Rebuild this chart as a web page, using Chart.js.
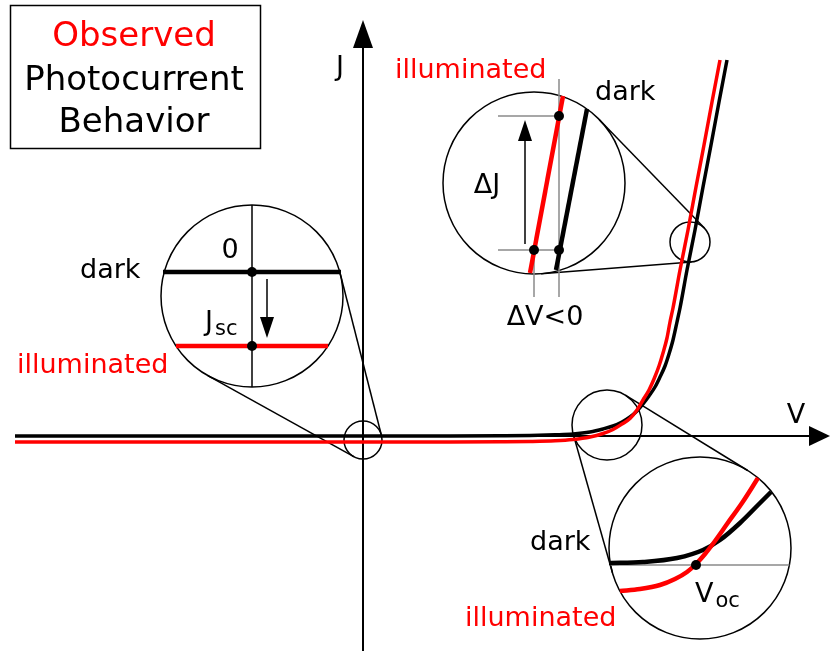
<!DOCTYPE html>
<html>
<head>
<meta charset="utf-8">
<script src="https://cdn.jsdelivr.net/npm/chart.js@4.4.1/dist/chart.umd.min.js"></script>
<style>
  html, body { margin: 0; padding: 0; background: #fff; }
  #wrap { width: 831px; height: 651px; }
</style>
</head>
<body>
<div id="wrap"><canvas id="ivChart" width="831" height="651"></canvas></div>
<script>
// J-V curves, arbitrary units (origin = axis crossing)
const darkV  = [-3.48, 0.87, 1.37, 1.67, 1.92, 2.10, 2.27, 2.40, 2.50, 2.59, 2.67, 2.74, 2.80, 2.86, 2.92, 2.97, 3.02, 3.06, 3.10, 3.14, 3.17, 3.24, 3.32, 3.40, 3.48, 3.56, 3.64];
const darkJ  = [0, 0, 0.002, 0.005, 0.012, 0.02, 0.04, 0.07, 0.10, 0.14, 0.19, 0.25, 0.32, 0.40, 0.49, 0.59, 0.70, 0.82, 0.96, 1.14, 1.28, 1.66, 2.06, 2.49, 2.91, 3.34, 3.76];
const illumV = [-3.48, 0.87, 1.37, 1.67, 1.92, 2.10, 2.27, 2.40, 2.50, 2.59, 2.67, 2.74, 2.80, 2.86, 2.91, 2.96, 3.00, 3.04, 3.07, 3.10, 3.17, 3.25, 3.33, 3.41, 3.49, 3.57];
const illumJ = [-0.06, -0.06, -0.058, -0.055, -0.048, -0.035, -0.01, 0.025, 0.065, 0.12, 0.175, 0.26, 0.36, 0.46, 0.57, 0.70, 0.83, 0.98, 1.14, 1.28, 1.66, 2.06, 2.49, 2.91, 3.34, 3.76];

// magnified pieces: short circuit (left), forward bias (top), open circuit (bottom)
const jscDarkV = [-2.00, -0.22], jscDarkJ = [1.64, 1.64];
const jscIllumV = [-1.87, -0.35], jscIllumJ = [0.90, 0.90];
const fwdDarkV = [1.93, 2.24], fwdDarkJ = [1.66, 3.27];
const fwdIllumV = [1.67, 2.00], fwdIllumJ = [1.63, 3.40];
const vocDarkV = [2.46, 2.80, 3.14, 3.40, 3.57, 3.77, 3.97, 4.08];
const vocDarkJ = [-1.27, -1.26, -1.22, -1.14, -1.04, -0.87, -0.67, -0.56];
const vocIllumV = [2.57, 2.77, 2.97, 3.12, 3.24, 3.33, 3.42, 3.52, 3.64, 3.79, 3.95];
const vocIllumJ = [-1.55, -1.53, -1.49, -1.43, -1.36, -1.28, -1.18, -1.05, -0.88, -0.67, -0.42];

// marked points: 0, Jsc, the two ΔJ ends, the dark point, Voc
const markV = [-1.11, -1.11, 1.96, 1.71, 1.96, 3.33];
const markJ = [1.64, 0.90, 3.20, 1.86, 1.86, -1.29];

const zip = (xs, ys) => xs.map((x, i) => ({ x, y: ys[i] }));

const RED = '#ff0000';
const FONT = '"DejaVu Sans", Verdana, sans-serif';

// lens circles (small on the curve, big = magnified view)
const lenses = [
  { small: { v: 0.00, j: -0.04, r: 0.19 }, big: { v: -1.11, j: 1.40, r: 0.91 } },
  { small: { v: 3.27, j: 1.94, r: 0.20 }, big: { v: 1.71, j: 2.53, r: 0.91 } },
  { small: { v: 2.44, j: 0.11, r: 0.35 }, big: { v: 3.37, j: -1.12, r: 0.91 } }
];

const labels = [
  { text: 'J', v: -0.23, j: 3.61, align: 'center', color: '#000' },
  { text: 'V', v: 4.33, j: 0.13, align: 'center', color: '#000' },
  { text: 'illuminated', v: 0.32, j: 3.58, align: 'left', color: RED },
  { text: 'dark', v: 2.32, j: 3.36, align: 'left', color: '#000' },
  { text: 'ΔJ', v: 1.24, j: 2.43, align: 'center', color: '#000' },
  { text: 'ΔV<0', v: 1.82, j: 1.11, align: 'center', color: '#000' },
  { text: '0', v: -1.33, j: 1.78, align: 'center', color: '#000' },
  { text: 'dark', v: -2.83, j: 1.58, align: 'left', color: '#000' },
  { text: 'illuminated', v: -3.46, j: 0.63, align: 'left', color: RED },
  { text: 'dark', v: 1.67, j: -1.14, align: 'left', color: '#000' },
  { text: 'illuminated', v: 1.02, j: -1.90, align: 'left', color: RED }
];

const subLabels = [
  { main: 'J', sub: 'sc', v: -1.58, j: 1.06 },
  { main: 'V', sub: 'oc', v: 3.32, j: -1.66 }
];

function arrow(ctx, x1, y1, x2, y2, len, half, width) {
  const a = Math.atan2(y2 - y1, x2 - x1);
  const bx = x2 - len * Math.cos(a), by = y2 - len * Math.sin(a);
  ctx.lineWidth = width;
  ctx.beginPath();
  ctx.moveTo(x1, y1);
  ctx.lineTo(bx, by);
  ctx.stroke();
  ctx.beginPath();
  ctx.moveTo(x2, y2);
  ctx.lineTo(bx + half * Math.sin(a), by - half * Math.cos(a));
  ctx.lineTo(bx - half * Math.sin(a), by + half * Math.cos(a));
  ctx.closePath();
  ctx.fill();
}

const sketch = {
  id: 'sketch',
  beforeDatasetsDraw(chart) {
    const { ctx, scales: { x, y } } = chart;
    const px = v => x.getPixelForValue(v);
    const py = j => y.getPixelForValue(j);
    const unit = px(1) - px(0);
    const circ = c => ({ x: px(c.v), y: py(c.j), r: c.r * unit });

    ctx.save();
    ctx.strokeStyle = '#000';
    ctx.fillStyle = '#000';

    // axes with arrow heads
    arrow(ctx, px(-3.48), py(0), px(4.67), py(0), 21, 10, 2);
    arrow(ctx, px(0), py(-2.15), px(0), py(4.16), 28, 10, 2);

    lenses.forEach(l => {
      const s = circ(l.small), b = circ(l.big);
      // white disc for the magnified view
      ctx.fillStyle = '#fff';
      ctx.beginPath();
      ctx.arc(b.x, b.y, b.r, 0, Math.PI * 2);
      ctx.fill();

      // outer tangents between the two circles
      const dx = b.x - s.x, dy = b.y - s.y;
      const L = Math.hypot(dx, dy), th = Math.atan2(dy, dx);
      const a = Math.acos((b.r - s.r) / L);
      ctx.lineWidth = 1.5;
      [1, -1].forEach(sg => {
        const al = th + sg * a, nx = Math.cos(al), ny = Math.sin(al);
        ctx.beginPath();
        ctx.moveTo(s.x - s.r * nx, s.y - s.r * ny);
        ctx.lineTo(b.x - b.r * nx, b.y - b.r * ny);
        ctx.stroke();
      });
      [s, b].forEach(c => {
        ctx.beginPath();
        ctx.arc(c.x, c.y, c.r, 0, Math.PI * 2);
        ctx.stroke();
      });
    });

    // J axis inside the left lens
    const lb = circ(lenses[0].big);
    ctx.lineWidth = 1.5;
    ctx.beginPath();
    ctx.moveTo(lb.x, lb.y - lb.r);
    ctx.lineTo(lb.x, lb.y + lb.r);
    ctx.stroke();

    // V axis inside the bottom lens
    const bb = circ(lenses[2].big);
    const yv = py(-1.29);
    const hc = Math.sqrt(bb.r * bb.r - (yv - bb.y) * (yv - bb.y));
    ctx.strokeStyle = '#8a8a8a';
    ctx.beginPath();
    ctx.moveTo(bb.x - hc, yv);
    ctx.lineTo(bb.x + hc, yv);
    ctx.stroke();

    // ΔJ / ΔV guides in the top lens
    const seg = (v1, j1, v2, j2) => {
      ctx.beginPath();
      ctx.moveTo(px(v1), py(j1));
      ctx.lineTo(px(v2), py(j2));
      ctx.stroke();
    };
    seg(1.71, 1.86, 1.71, 1.39);
    seg(1.96, 3.57, 1.96, 1.39);
    seg(1.35, 3.20, 1.96, 3.20);
    seg(1.35, 1.86, 1.96, 1.86);
    ctx.restore();
  },
  afterDatasetsDraw(chart) {
    const { ctx, scales: { x, y } } = chart;
    const px = v => x.getPixelForValue(v);
    const py = j => y.getPixelForValue(j);

    ctx.save();
    ctx.strokeStyle = '#000';
    ctx.fillStyle = '#000';
    arrow(ctx, px(-0.96), py(1.57), px(-0.96), py(0.98), 21, 7, 1.5);
    arrow(ctx, px(1.62), py(1.92), px(1.62), py(3.16), 21, 7, 1.5);

    ctx.textBaseline = 'alphabetic';
    ctx.font = '27px ' + FONT;
    labels.forEach(l => {
      ctx.fillStyle = l.color;
      ctx.textAlign = l.align;
      ctx.fillText(l.text, px(l.v), py(l.j));
    });
    ctx.fillStyle = '#000';
    ctx.textAlign = 'left';
    subLabels.forEach(l => {
      ctx.font = '27px ' + FONT;
      const w = ctx.measureText(l.main).width;
      ctx.fillText(l.main, px(l.v), py(l.j));
      ctx.font = '21px ' + FONT;
      ctx.fillText(l.sub, px(l.v) + w + 2, py(l.j) + 5);
    });

    // title box
    ctx.lineWidth = 1.5;
    ctx.strokeRect(10.5, 5.5, 250, 143);
    ctx.font = '34px ' + FONT;
    ctx.textAlign = 'center';
    ctx.fillStyle = RED;
    ctx.fillText('Observed', 134, 46);
    ctx.fillStyle = '#000';
    ctx.fillText('Photocurrent', 134, 90);
    ctx.fillText('Behavior', 134, 132);
    ctx.restore();
  }
};

const line = (data, color, width, mode) => ({
  data,
  showLine: true,
  borderColor: color,
  borderWidth: width,
  pointRadius: 0,
  fill: false,
  cubicInterpolationMode: mode || 'default',
  tension: 0
});

new Chart(document.getElementById('ivChart'), {
  type: 'scatter',
  data: {
    datasets: [
      {
        data: zip(markV, markJ),
        pointRadius: 5,
        pointBackgroundColor: '#000',
        pointBorderWidth: 0,
        showLine: false
      },
      line(zip(illumV, illumJ), RED, 3.5, 'monotone'),
      line(zip(darkV, darkJ), '#000', 3.5, 'monotone'),
      line(zip(jscIllumV, jscIllumJ), RED, 4.5),
      line(zip(jscDarkV, jscDarkJ), '#000', 4.5),
      line(zip(fwdIllumV, fwdIllumJ), RED, 4.5),
      line(zip(fwdDarkV, fwdDarkJ), '#000', 4.5),
      line(zip(vocIllumV, vocIllumJ), RED, 4.5, 'monotone'),
      line(zip(vocDarkV, vocDarkJ), '#000', 4.5, 'monotone')
    ]
  },
  options: {
    responsive: false,
    animation: false,
    events: [],
    layout: { padding: 0, autoPadding: false },
    plugins: {
      legend: { display: false },
      tooltip: { enabled: false }
    },
    scales: {
      x: { type: 'linear', min: -3.63, max: 4.68, display: false },
      y: { type: 'linear', min: -2.15, max: 4.36, display: false }
    }
  },
  plugins: [sketch]
});
</script>
</body>
</html>
